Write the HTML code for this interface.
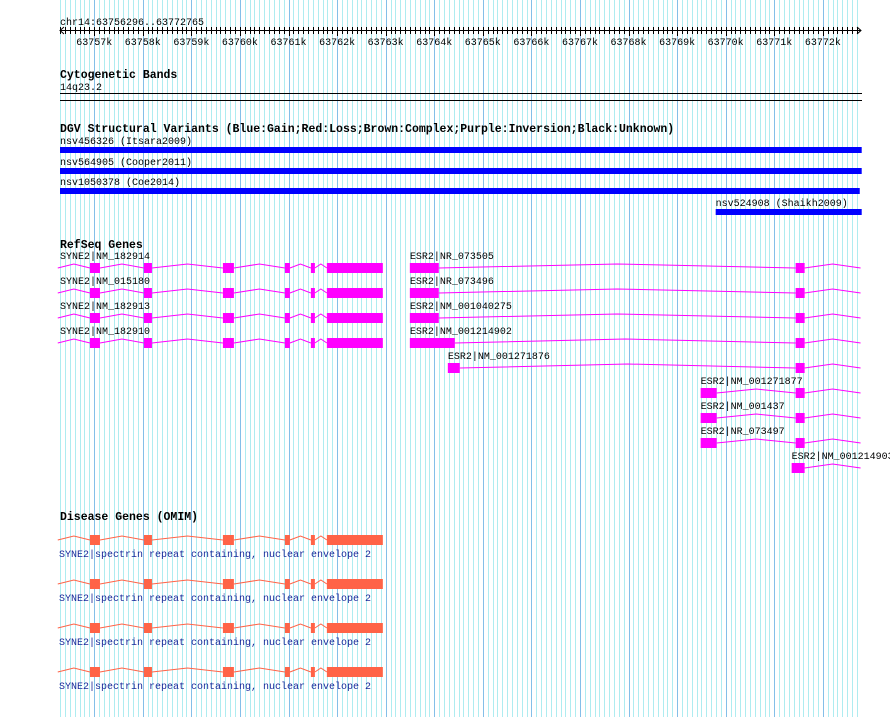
<!DOCTYPE html>
<html><head><meta charset="utf-8"><style>
body{margin:0;background:#fff;}
svg{display:block;font-family:"Liberation Mono","DejaVu Sans Mono",monospace;}
.t{font-size:10px;fill:#000;}
.h{font-size:11.5px;font-weight:bold;fill:#000;}
.d{font-size:10px;fill:#1a2a9a;}
</style></head><body>
<svg id="c" width="890" height="717" viewBox="0 0 890 717"></svg>
<script>
const startBp = 63756296, endBp = 63772765;
const tickLabelsK = [63757,63758,63759,63760,63761,63762,63763,63764,63765,63766,63767,63768,63769,63770,63771,63772];
const svNames = ["nsv456326 (Itsara2009)","nsv564905 (Cooper2011)","nsv1050378 (Coe2014)","nsv524908 (Shaikh2009)"];
const svStarts = [63756.296,63756.296,63756.296,63769.794];
const svEnds = [63772.8,63772.8,63772.76,63772.8];
const syneExons = [[63756.913,63757.119],[63758.024,63758.189],[63759.650,63759.876],[63760.926,63761.029],[63761.461,63761.543],[63761.790,63762.942]];
const syneNames = ["SYNE2|NM_182914","SYNE2|NM_015180","SYNE2|NM_182913","SYNE2|NM_182910"];
const esrNames = ["ESR2|NR_073505","ESR2|NR_073496","ESR2|NM_001040275","ESR2|NM_001214902","ESR2|NM_001271876","ESR2|NM_001271877","ESR2|NM_001437","ESR2|NR_073497","ESR2|NM_001214903"];
const esrFirstStart = [63763.498,63763.498,63763.498,63763.498,63764.280,63769.485,63769.485,63769.485,63771.358];
const esrFirstEnd = [63764.094,63764.094,63764.094,63764.424,63764.526,63769.815,63769.815,63769.815,63771.625];
const esrSecond = [[63771.440,63771.625],[63771.440,63771.625],[63771.440,63771.625],[63771.440,63771.625],[63771.440,63771.625],[63771.440,63771.625],[63771.440,63771.625],[63771.440,63771.625],null];
const esrEnd = 63772.777;
const omimLabel = "SYNE2|spectrin repeat containing, nuclear envelope 2";

const svg = document.getElementById('c');
const NS = 'http://www.w3.org/2000/svg';
const X0 = 60, X1 = 860;
function x(kb){ return X0 + (kb*1000 - startBp) * (X1 - X0) / (endBp - startBp); }
function mk(tag, attrs, parent){ const e = document.createElementNS(NS, tag); for (const k in attrs) e.setAttribute(k, attrs[k]); (parent||svg).appendChild(e); return e; }
function txt(s, px, py, cls){ const e = mk('text', {x:px, y:py, class:cls}); e.textContent = s; return e; }

// grid
const grid = mk('g', {});


for (let b = Math.ceil(startBp/100)*100; b <= endBp; b += 100) {
  const gx = Math.round(x(b/1000)) + 0.5;
  const major = b % 1000 === 0;
  mk('line', {x1:gx, x2:gx, y1:0, y2:717, stroke: major ? '#84bfe8' : '#aeecf0', 'stroke-width':1}, grid);
}

// ruler
const ruler = mk('g', {});


let t = txt('chr14:63756296..63772765', 60, 25, 't'); ruler.appendChild(t);
mk('line', {x1:60, x2:861, y1:30.5, y2:30.5, stroke:'#000'}, ruler);
mk('polyline', {points:'64,27 60,30.5 64,34', fill:'none', stroke:'#000'}, ruler);
mk('polyline', {points:'857,27 861,30.5 857,34', fill:'none', stroke:'#000'}, ruler);
for (let b = Math.ceil(startBp/100)*100; b <= endBp; b += 100) {
  const gx = Math.round(x(b/1000)) + 0.5;
  mk('line', {x1:gx, x2:gx, y1:27, y2: b%1000===0 ? 36 : 34, stroke:'#000'}, ruler);
}
tickLabelsK.forEach(k => { const e = txt(k+'k', x(k), 45, 't'); e.setAttribute('text-anchor','middle'); ruler.appendChild(e); });

// cytoband
txt('Cytogenetic Bands', 60, 78, 'h');
txt('14q23.2', 60, 90, 't');
const cb = mk('g', {});


mk('line', {x1:60, x2:862, y1:93.5, y2:93.5, stroke:'#000'}, cb);
mk('line', {x1:60, x2:862, y1:100.5, y2:100.5, stroke:'#000'}, cb);

// DGV
txt('DGV Structural Variants (Blue:Gain;Red:Loss;Brown:Complex;Purple:Inversion;Black:Unknown)', 60, 132, 'h');
const svY = [147, 168, 188, 209];
svNames.forEach((n, i) => {
  const g = mk('g', {});
  
  
  const tx = txt(n, x(svStarts[i]), svY[i] - 3, 't'); g.appendChild(tx);
  mk('rect', {x:x(svStarts[i]), y:svY[i], width:x(svEnds[i]) - x(svStarts[i]), height:6, fill:'#0000ff'}, g);
});

// gene drawing
function gene(exons, lineStart, lineEnd, cy, color, parent){
  const segs = [];
  let prev = lineStart;
  exons.forEach(e => { segs.push([prev, e[0]]); prev = e[1]; });
  segs.push([prev, lineEnd]);
  segs.forEach(s => {
    const a = x(s[0]), b = x(s[1]);
    if (b - a < 1) return;
    mk('polyline', {points:`${a},${cy} ${(a+b)/2},${cy-4} ${b},${cy}`, fill:'none', stroke:color, 'stroke-width':1}, parent);
  });
  exons.forEach(e => mk('rect', {x:x(e[0]), y:cy-5, width:x(e[1])-x(e[0]), height:10, fill:color}, parent));
}

txt('RefSeq Genes', 60, 248, 'h');
syneNames.forEach((n, i) => {
  const cy = 268 + i*25;
  const g = mk('g', {});
  
  
  g.appendChild(txt(n, 60, cy - 9, 't'));
  gene(syneExons, 63756.25, 63762.942, cy, '#ff00ff', g);
});
esrNames.forEach((n, i) => {
  const cy = 268 + i*25;
  const g = mk('g', {});
  
  
  g.appendChild(txt(n, x(esrFirstStart[i]), cy - 9, 't'));
  const ex = [[esrFirstStart[i], esrFirstEnd[i]]];
  if (esrSecond[i]) ex.push(esrSecond[i]);
  gene(ex, esrFirstStart[i], esrEnd, cy, '#ff00ff', g);
});

// OMIM
txt('Disease Genes (OMIM)', 60, 520, 'h');
for (let i = 0; i < 4; i++) {
  const cy = 540 + i*44;
  const g = mk('g', {});
  
  
  gene(syneExons, 63756.25, 63762.942, cy, '#ff6347', g);
  g.appendChild(txt(omimLabel, 59, cy + 17, 'd'));
}
</script>
</body></html>
